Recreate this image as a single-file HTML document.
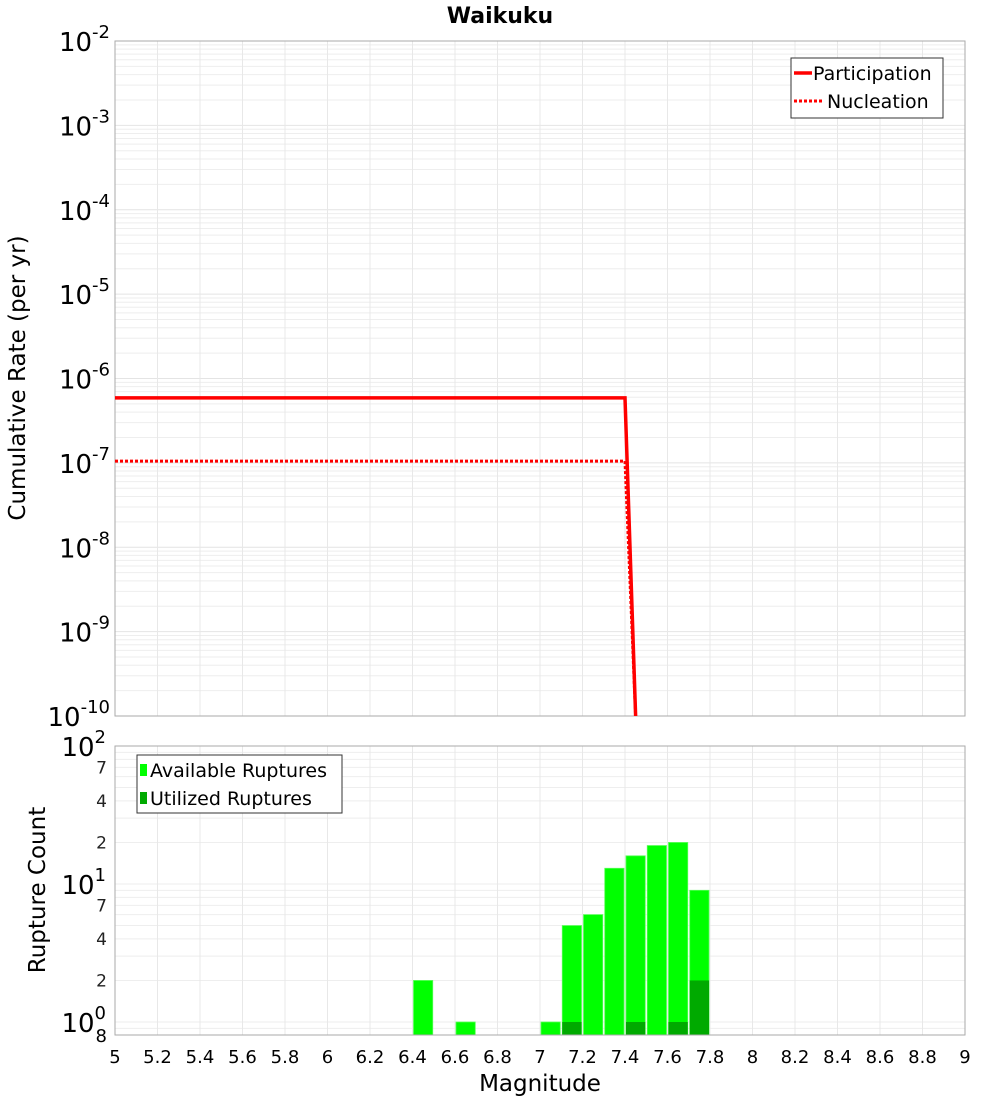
<!DOCTYPE html>
<html><head><meta charset="utf-8"><style>
body{margin:0;background:#fff;font-family:"DejaVu Sans","Liberation Sans",sans-serif}
svg text{font-family:"DejaVu Sans","Liberation Sans",sans-serif}
</style></head><body>
<svg id="c" width="1000" height="1100" xmlns="http://www.w3.org/2000/svg"></svg>
<script>
const partMags=[5,7.4,7.45];
const partRates=[5.9e-7,5.9e-7,8e-11];
const nuclMags=[5,7.4,7.45];
const nuclRates=[1.05e-7,1.05e-7,8e-11];
const binStarts=[6.4,6.6,7.0,7.1,7.2,7.3,7.4,7.5,7.6,7.7];
const availCounts=[2,1,1,5,6,13,16,19,20,9];
const utilCounts=[0,0,0,1,0,0,1,0,1,2];
const xTicks=[5,5.2,5.4,5.6,5.8,6,6.2,6.4,6.6,6.8,7,7.2,7.4,7.6,7.8,8,8.2,8.4,8.6,8.8,9];
const topDecades=[-2,-3,-4,-5,-6,-7,-8,-9,-10];
const botMinorLabels=[2,4,7];

const svg=document.getElementById('c');
const NS='http://www.w3.org/2000/svg';
function el(t,a,p){const e=document.createElementNS(NS,t);for(const k in a)e.setAttribute(k,a[k]);(p||svg).appendChild(e);return e;}
const L=115,R=965;
const X=m=>L+(m-5)/4*(R-L);
const T0=41,T1=716;
const YT=v=>T0+(-2-Math.log10(v))*(T1-T0)/8;
const B0=746,B1=1035,BD=138;
const YB=v=>Math.min(B1,1022-BD*Math.log10(v));

let t=el('text',{x:500,y:23,'text-anchor':'middle','font-size':22,'font-weight':'bold'});
t.textContent='Waikuku';

const gT=el('g',{});
for(let d=-10;d<-2;d++){for(let k=2;k<=9;k++){const y=YT(k*Math.pow(10,d));el('line',{x1:L,x2:R,y1:y,y2:y,stroke:'#eeeeee','stroke-width':1},gT);}
 const y=YT(Math.pow(10,d));el('line',{x1:L,x2:R,y1:y,y2:y,stroke:'#e4e4e4','stroke-width':1},gT);}
xTicks.forEach(m=>{el('line',{x1:X(m),x2:X(m),y1:T0,y2:T1,stroke:'#e8e8e8'},gT);});
let fr=el('rect',{x:L,y:T0,width:R-L,height:T1-T0,fill:'none',stroke:'#aaa'});


topDecades.forEach(d=>{const y=YT(Math.pow(10,d));const g=el('text',{x:110,y:y+10,'text-anchor':'end','font-size':26});
 
 g.innerHTML='10<tspan dy="-13" font-size="18">'+d+'</tspan>';});
t=el('text',{x:25,y:378,'text-anchor':'middle','font-size':23,transform:'rotate(-90 25 378)'});
t.textContent='Cumulative Rate (per yr)';

function pts(ms,rs){return ms.map((m,i)=>X(m)+','+Math.min(T1,YT(rs[i]))).join(' ');}
let cp=el('clipPath',{id:'tc'});el('rect',{x:L,y:T0,width:R-L,height:T1-T0},cp);
let p=el('polyline',{points:pts(nuclMags,nuclRates),fill:'none',stroke:'#ff0000','stroke-width':3,'stroke-dasharray':'3,2','clip-path':'url(#tc)'});

p=el('polyline',{points:pts(partMags,partRates),fill:'none',stroke:'#ff0000','stroke-width':3.5,'clip-path':'url(#tc)'});


let lg=el('g',{});
el('rect',{x:791,y:58,width:152,height:60,fill:'#fff',stroke:'#333'},lg);
el('line',{x1:794,x2:812,y1:73,y2:73,stroke:'#f00','stroke-width':3.5},lg);
el('line',{x1:794,x2:822,y1:101,y2:101,stroke:'#f00','stroke-width':3,'stroke-dasharray':'3,2'},lg);
t=el('text',{x:813,y:80,'font-size':19},lg);t.textContent='Participation';
t=el('text',{x:827,y:108,'font-size':19},lg);t.textContent='Nucleation';

const gB=el('g',{});
[0.8,0.9,1,2,3,4,5,6,7,8,9,10,20,30,40,50,60,70,80,90].forEach(v=>{const y=YB(v);el('line',{x1:L,x2:R,y1:y,y2:y,stroke:'#eeeeee'},gB);});
xTicks.forEach(m=>{el('line',{x1:X(m),x2:X(m),y1:B0,y2:B1,stroke:'#e8e8e8'},gB);});

const bw=X(5.1)-X(5);
binStarts.forEach((b,i)=>{const x=X(b)+1;
 let r=el('rect',{x:x,y:YB(availCounts[i]),width:bw-2,height:B1-YB(availCounts[i]),fill:'#00ff00',stroke:'#55ff55','stroke-width':0.8});
 
 if(utilCounts[i]>0){r=el('rect',{x:x,y:YB(utilCounts[i]),width:bw-2,height:B1-YB(utilCounts[i]),fill:'#00aa00'});
 }
});
fr=el('rect',{x:L,y:B0,width:R-L,height:B1-B0,fill:'none',stroke:'#aaa'});


[[100,'2'],[10,'1'],[1,'0']].forEach(([v,e])=>{const y=YB(v);const g=el('text',{x:106,y:y+10,'text-anchor':'end','font-size':26});
 
 g.innerHTML='10<tspan dy="-13" font-size="18">'+e+'</tspan>';});
[1,10].forEach(dec=>botMinorLabels.forEach(k=>{const y=YB(k*dec);const g=el('text',{x:107,y:y+6,'text-anchor':'end','font-size':17,fill:'#222'});
 g.textContent=k;}));
t=el('text',{x:107,y:1042,'text-anchor':'end','font-size':18});t.textContent='8';
t=el('text',{x:45,y:890,'text-anchor':'middle','font-size':23,transform:'rotate(-90 45 890)'});
t.textContent='Rupture Count';

xTicks.forEach(m=>{const g=el('text',{x:X(m),y:1063,'text-anchor':'middle','font-size':18});
 g.textContent=String(m);});
t=el('text',{x:540,y:1091,'text-anchor':'middle','font-size':23});
t.textContent='Magnitude';

lg=el('g',{});
el('rect',{x:137,y:755,width:205,height:58,fill:'#fff',stroke:'#333'},lg);
el('rect',{x:140,y:764,width:7,height:12,fill:'#00ff00'},lg);
el('rect',{x:140,y:792,width:7,height:12,fill:'#00aa00'},lg);
t=el('text',{x:150,y:777,'font-size':19},lg);t.textContent='Available Ruptures';
t=el('text',{x:150,y:805,'font-size':19},lg);t.textContent='Utilized Ruptures';
</script>
</body></html>
